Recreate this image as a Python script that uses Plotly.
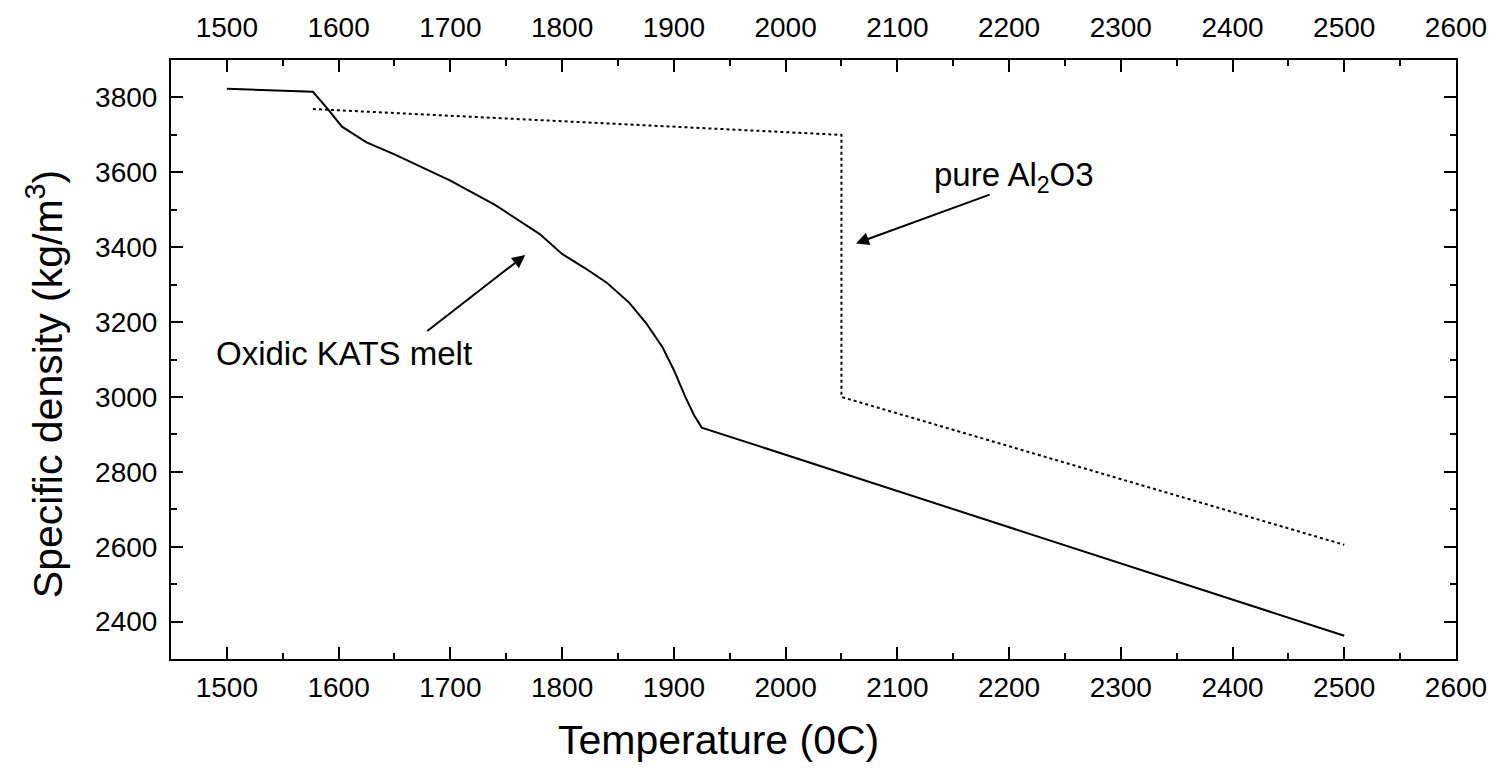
import plotly.graph_objects as go

# Oxidic KATS melt (solid)
T_kats = [1500, 1577, 1590, 1603, 1625, 1650, 1700, 1740, 1780, 1800, 1820, 1840, 1860, 1875, 1890, 1900, 1910, 1918, 1925, 2500]
rho_kats = [3823, 3815, 3770, 3722, 3680, 3648, 3578, 3513, 3435, 3382, 3345, 3305, 3252, 3198, 3132, 3072, 3002, 2952, 2918, 2362]

# pure Al2O3 (dotted)
T_al = [1577, 2050, 2050, 2500]
rho_al = [3769, 3700, 3000, 2605]

x_ticks = [1500, 1600, 1700, 1800, 1900, 2000, 2100, 2200, 2300, 2400, 2500, 2600]
y_ticks = [2400, 2600, 2800, 3000, 3200, 3400, 3600, 3800]

FONT = "Arial, Liberation Sans, sans-serif"

fig = go.Figure()
fig.add_trace(go.Scatter(x=T_kats, y=rho_kats, mode="lines",
                         line=dict(color="black", width=2), showlegend=False, hoverinfo="skip"))
fig.add_trace(go.Scatter(x=T_al, y=rho_al, mode="lines",
                         line=dict(color="black", width=2, dash="dot"), showlegend=False, hoverinfo="skip"))
# invisible trace to activate top axis
fig.add_trace(go.Scatter(x=T_al, y=rho_al, mode="lines", xaxis="x2",
                         line=dict(color="rgba(0,0,0,0)", width=0), showlegend=False, hoverinfo="skip"))

axis_common = dict(
    showgrid=False, zeroline=False, showline=True, linecolor="black", linewidth=2,
    ticks="inside", ticklen=12, tickwidth=2, tickcolor="black",
    tickfont=dict(family=FONT, size=28, color="black"),
)
minor_x = dict(dtick=50, ticks="inside", ticklen=6, tickwidth=2, tickcolor="black")

fig.update_layout(
    width=1499, height=768,
    paper_bgcolor="white", plot_bgcolor="white",
    margin=dict(l=171, r=37, t=60, b=109),
    xaxis=dict(range=[1450, 2600], tickvals=x_ticks, mirror=True, minor=minor_x,
               ticklabelstandoff=2, **axis_common),
    xaxis2=dict(range=[1450, 2600], tickvals=x_ticks, overlaying="x", side="top", anchor="y",
                minor=minor_x, ticklabelstandoff=10, **axis_common),
    yaxis=dict(range=[2300, 3900], tickvals=y_ticks, mirror="ticks",
               minor=dict(dtick=100, ticks="inside", ticklen=6, tickwidth=2, tickcolor="black"),
               ticklabelstandoff=6, **axis_common),
    annotations=[
        dict(x=1940, y=-0.135, xref="x", yref="paper", text="Temperature (0C)", showarrow=False,
             xanchor="center", yanchor="middle", font=dict(family=FONT, size=41, color="black")),
        dict(x=-0.098, y=0.459, xref="paper", yref="paper", text="Specific density (kg/m<sup>3</sup>)",
             showarrow=False, textangle=-90, xanchor="center", yanchor="middle",
             font=dict(family=FONT, size=41, color="black")),
        dict(x=2063, y=3410, ax=2184, ay=3542, xref="x", yref="y", axref="x", ayref="y",
             text="", showarrow=True, arrowhead=2, arrowsize=1.3, arrowwidth=2, arrowcolor="black"),
        dict(x=2204, y=3587, xref="x", yref="y", text="pure Al<sub>2</sub>O3", showarrow=False,
             font=dict(family=FONT, size=33, color="black")),
        dict(x=1767, y=3379, ax=1678, ay=3173, xref="x", yref="y", axref="x", ayref="y",
             text="", showarrow=True, arrowhead=2, arrowsize=1.3, arrowwidth=2, arrowcolor="black"),
        dict(x=1605, y=3115, xref="x", yref="y", text="Oxidic KATS melt", showarrow=False,
             font=dict(family=FONT, size=33, color="black")),
    ],
)

fig.write_html("out.html")
